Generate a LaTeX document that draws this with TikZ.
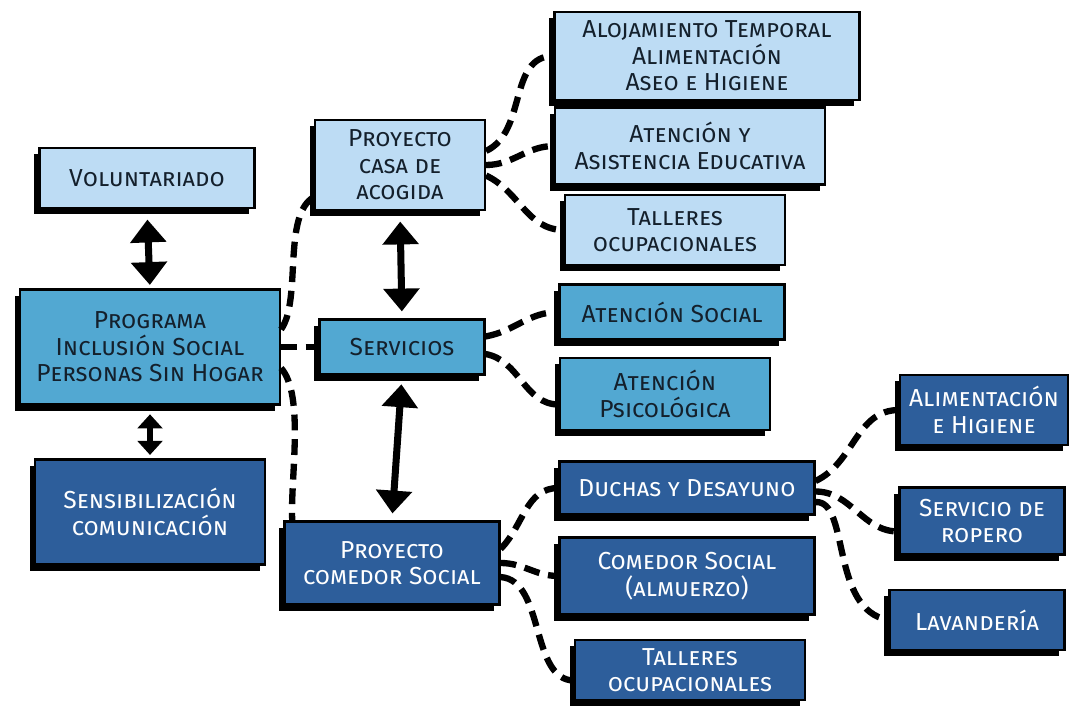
\documentclass[tikz,border=0pt]{standalone}
\usepackage{fontspec}
\setmainfont{Fira Sans}
\usetikzlibrary{arrows.meta, shadows}
\definecolor{paleblue}{HTML}{BDDCF4}
\definecolor{midblue}{HTML}{52A8D2}
\definecolor{deepblue}{HTML}{2D5E9B}
\definecolor{ink}{HTML}{14202C}
\tikzset{box/.style={draw=black, line width=1.2pt, align=center, inner sep=2pt,
            font=\fontsize{14}{15}\selectfont\scshape,
            general shadow={shadow xshift=-3pt, shadow yshift=-3.5pt, fill=black}},
         pale/.style={box, fill=paleblue, text=ink},
         mid/.style={box, fill=midblue, text=ink},
         deep/.style={box, fill=deepblue, text=white},
         link/.style={line width=3.6pt, dash pattern=on 9pt off 5pt},
         both/.style={line width=4pt, {Triangle[width=20pt,length=13pt]}-{Triangle[width=20pt,length=13pt]}},
         bothsmall/.style={line width=3.5pt, {Triangle[width=14pt,length=8pt]}-{Triangle[width=14pt,length=8pt]}},
        }

\begin{document}
\begin{tikzpicture}[x=0.02cm, y=-0.02cm]
        \useasboundingbox (0,0) rectangle (1069,706);

        \node[pale, minimum width=4.3cm, minimum height=1.2cm](vol)at(147,178){Voluntariado};
        \node[mid, minimum width=5.2cm, minimum height=2.3cm](prog)at(150,347){Programa\\Inclusión Social\\Personas Sin Hogar};
        \node[deep, minimum width=4.6cm, minimum height=2.1cm](sens)at(150,512){Sensibilización\\comunicación};

        \node[pale, minimum width=3.4cm, minimum height=1.8cm](casa)at(400,165){Proyecto\\casa de\\acogida};
        \node[mid, minimum width=3.3cm, minimum height=1.1cm](serv)at(402,347){Servicios};
        \node[deep, minimum width=4.3cm, minimum height=1.66cm](come)at(392,563){Proyecto\\comedor Social};

        \node[pale, minimum width=6.1cm, minimum height=1.76cm](aloj)at(707,56){Alojamiento Temporal\\Alimentación\\Aseo e Higiene};
        \node[pale, minimum width=5.4cm, minimum height=1.54cm](aten)at(690,146){Atención y\\Asistencia Educativa};
        \node[pale, minimum width=4.4cm, minimum height=1.4cm](tall1)at(675,230){Talleres\\ocupacionales};
        \node[mid, minimum width=4.5cm, minimum height=1.1cm](asoc)at(672,312){Atención Social};
        \node[mid, minimum width=4.2cm, minimum height=1.44cm](psic)at(665,394){Atención\\Psicológica};
        \node[deep, minimum width=5.1cm, minimum height=1.06cm](duch)at(687,488){Duchas y Desayuno};
        \node[deep, minimum width=5.1cm, minimum height=1.54cm](csoc)at(687,576){Comedor Social\\(almuerzo)};
        \node[deep, minimum width=4.6cm, minimum height=1.2cm](tall2)at(690,670){Talleres\\ocupacionales};

        \node[deep, minimum width=3.36cm, minimum height=1.4cm](alim)at(984,410){Alimentación\\e Higiene};
        \node[deep, minimum width=3.3cm, minimum height=1.34cm](rope)at(982,521){Servicio de\\ropero};
        \node[deep, minimum width=3.5cm, minimum height=1.2cm](lava)at(977,620){Lavandería};

        \draw[both, shorten <=6pt, shorten >=2pt](vol.south)--(prog.north);
        \draw[bothsmall, shorten <=5pt, shorten >=2pt](prog.south)--(sens.north);
        \draw[both, shorten <=6pt, shorten >=4pt](casa.south)--(serv.north);
        \draw[both, shorten <=5pt, shorten >=4pt](serv.south)--(come.north);

        \draw[link]([yshift=10pt]prog.east) .. controls (302,300) and (282,215) .. ([yshift=8pt]casa.south west);
        \draw[link](prog.east)--(serv.west);
        \draw[link]([yshift=-12pt]prog.east) .. controls (305,395) and (290,480) .. ([xshift=5pt]come.north west);

        \draw[link]([yshift=8pt]casa.east) to[out=25,in=180] (aloj.west);
        \draw[link](casa.east) to[out=0,in=180] (aten.west);
        \draw[link]([yshift=-6pt]casa.east) to[out=-25,in=180] (tall1.west);

        \draw[link]([yshift=6pt]serv.east) to[out=10,in=180] (asoc.west);
        \draw[link]([yshift=-4pt]serv.east) to[out=-10,in=180] ([yshift=-6pt]psic.west);

        \draw[link]([yshift=8pt]come.east) to[out=45,in=180] (duch.west);
        \draw[link](come.east) to[out=0,in=180] (csoc.west);
        \draw[link]([yshift=-8pt]come.east) .. controls (545,580) and (530,680) .. ([yshift=-6pt]tall2.west);

        \draw[link]([yshift=4pt]duch.east) to[out=25,in=180] (alim.west);
        \draw[link]([yshift=-2pt]duch.east) to[out=0,in=180] ([yshift=-6pt]rope.west);
        \draw[link]([yshift=-8pt]duch.east) .. controls (850,500) and (830,610) .. (lava.west);
    \end{tikzpicture}
\end{document}
